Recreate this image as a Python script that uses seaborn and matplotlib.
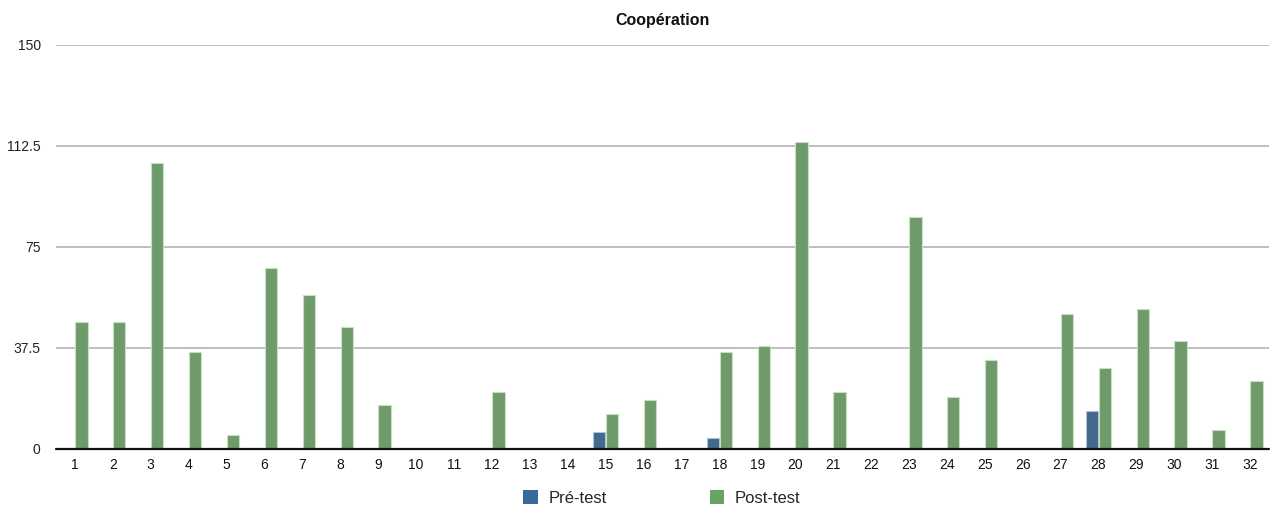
import matplotlib
matplotlib.use("Agg")
import matplotlib.pyplot as plt
from matplotlib.patches import Patch
import pandas as pd
import seaborn as sns

# Participants 1..32
participants = [str(i) for i in range(1, 33)]
pre_test = [0, 0, 0, 0, 0, 0, 0, 0, 0, 0, 0, 0, 0, 0, 6, 0,
            0, 4, 0, 0, 0, 0, 0, 0, 0, 0, 0, 14, 0, 0, 0, 0]
post_test = [47, 47, 106, 36, 5, 67, 57, 45, 16, 0, 0, 21, 0, 0, 13, 18,
             0, 36, 38, 114, 21, 0, 86, 19, 33, 0, 50, 30, 52, 40, 7, 25]
series_names = ["Pré-test", "Post-test"]
y_ticks = [0, 37.5, 75, 112.5, 150]
y_tick_labels = ["0", "37.5", "75", "112.5", "150"]
title = "Coopération"

colors = {"Pré-test": "#376a98", "Post-test": "#69a363"}
edge_colors = {"Pré-test": "#a9c3dc", "Post-test": "#c6e0c1"}

df = pd.DataFrame({
    "participant": participants * 2,
    "serie": [series_names[0]] * len(participants) + [series_names[1]] * len(participants),
    "score": pre_test + post_test,
})

sns.set_theme(style="white")
plt.rcParams["font.family"] = ["Liberation Sans", "DejaVu Sans"]

fig = plt.figure(figsize=(12.7, 5.07), dpi=100)
ax = fig.add_axes([56 / 1270, 1 - 448.5 / 507, 1213 / 1270, (448.5 - 45) / 507])

sns.barplot(data=df, x="participant", y="score", hue="serie",
            order=participants, hue_order=series_names,
            palette=colors, width=0.68, gap=0.04,
            linewidth=0.8, edgecolor="white", legend=False, ax=ax, zorder=3)

# lighter outline per series
n = len(participants)
for i, bar in enumerate(ax.patches[:2 * n]):
    name = series_names[i // n]
    bar.set_edgecolor(edge_colors[name])

ax.set_ylim(0, 150)
ax.set_xlim(-0.5, len(participants) - 0.5)
ax.set_yticks(y_ticks)
ax.set_yticklabels(y_tick_labels)
ax.yaxis.grid(True, color="#b9b9b9", linewidth=1.3, zorder=0)
ax.xaxis.grid(False)
ax.set_axisbelow(True)
for side in ["left", "right", "top", "bottom"]:
    ax.spines[side].set_visible(False)
ax.axhline(0, color="#111111", linewidth=1.6, zorder=6, clip_on=False)

ax.tick_params(axis="y", length=0, pad=11, labelsize=10, labelcolor="#222222")
ax.tick_params(axis="x", length=0, pad=7, labelsize=10, labelcolor="#111111")
ax.set_xlabel("")
ax.set_ylabel("")

fig.text((56 + 1269) / 2 / 1270, 1 - 21 / 507, title, ha="center", va="center",
         fontsize=11.5, fontweight="bold", color="#111111")

handles = [Patch(facecolor=colors[s], edgecolor="none") for s in series_names]
fig.legend(handles, series_names, loc="center", ncol=2,
           bbox_to_anchor=(662 / 1270, 1 - 498 / 507), frameon=False,
           fontsize=12, handlelength=0.85, handleheight=0.85,
           handletextpad=0.65, columnspacing=6.2)

fig.savefig("out.png", dpi=100)
